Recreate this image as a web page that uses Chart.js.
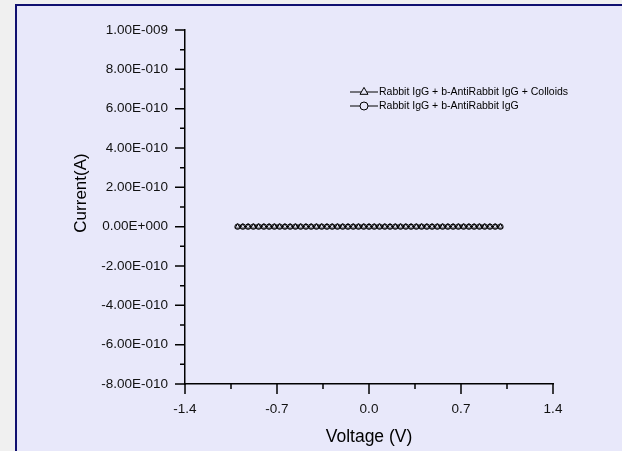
<!DOCTYPE html>
<html>
<head>
<meta charset="utf-8">
<script src="https://cdn.jsdelivr.net/npm/chart.js@4/dist/chart.umd.min.js"></script>
<style>
  html, body { margin: 0; padding: 0; background: #f0f0f0; }
  canvas { display: block; }
</style>
</head>
<body>
<canvas id="iv-chart" width="622" height="451"></canvas>
<script>
// voltage sweep (V)
const voltage = [
    -1.00, -0.96, -0.92, -0.88, -0.84, -0.80, -0.76, -0.72, -0.68, -0.64,
    -0.60, -0.56, -0.52, -0.48, -0.44, -0.40, -0.36, -0.32, -0.28, -0.24,
    -0.20, -0.16, -0.12, -0.08, -0.04, 0.00, 0.04, 0.08, 0.12, 0.16,
    0.20, 0.24, 0.28, 0.32, 0.36, 0.40, 0.44, 0.48, 0.52, 0.56,
    0.60, 0.64, 0.68, 0.72, 0.76, 0.80, 0.84, 0.88, 0.92, 0.96, 1.00
];
// current (A) - flat at this scale
const currentColloids = [
    0, 0, 0, 0, 0, 0, 0, 0, 0, 0,
    0, 0, 0, 0, 0, 0, 0, 0, 0, 0,
    0, 0, 0, 0, 0, 0, 0, 0, 0, 0,
    0, 0, 0, 0, 0, 0, 0, 0, 0, 0,
    0, 0, 0, 0, 0, 0, 0, 0, 0, 0, 0
];
const currentPlain = [
    0, 0, 0, 0, 0, 0, 0, 0, 0, 0,
    0, 0, 0, 0, 0, 0, 0, 0, 0, 0,
    0, 0, 0, 0, 0, 0, 0, 0, 0, 0,
    0, 0, 0, 0, 0, 0, 0, 0, 0, 0,
    0, 0, 0, 0, 0, 0, 0, 0, 0, 0, 0
];
const seriesLabels = ["Rabbit IgG + b-AntiRabbit IgG + Colloids", "Rabbit IgG + b-AntiRabbit IgG"];
const xTicks = [-1.4, -0.7, 0.0, 0.7, 1.4];
const yTicks = [-8e-10, -6e-10, -4e-10, -2e-10, 0, 2e-10, 4e-10, 6e-10, 8e-10, 1e-9];

const panelColor = "#e8e8fa";
const fontFamily = "'Liberation Sans', Arial, sans-serif";

function sciLabel(v) {
    if (Math.abs(v) < 1e-20) return "0.00E+000";
    let e = Math.floor(Math.log10(Math.abs(v)));
    let m = v / Math.pow(10, e);
    if (Math.abs(m) >= 9.995) { m = m / 10; e = e + 1; }
    return m.toFixed(2) + "E" + (e < 0 ? "-" : "+") + String(Math.abs(e)).padStart(3, "0");
}

function toPoints(ys) {
    return voltage.map((v, i) => ({ x: v, y: ys[i] }));
}

// background + framed panel
const framePlugin = {
    id: "frame",
    beforeDraw(chart) {
        const ctx = chart.ctx;
        ctx.save();
        ctx.fillStyle = "#f0f0f0";
        ctx.fillRect(0, 0, chart.width, chart.height);
        ctx.fillStyle = panelColor;
        ctx.fillRect(16, 5, chart.width - 16, chart.height - 5);
        ctx.strokeStyle = "#101070";
        ctx.lineWidth = 2;
        ctx.beginPath();
        ctx.moveTo(16, chart.height);
        ctx.lineTo(16, 5);
        ctx.lineTo(chart.width, 5);
        ctx.stroke();
        ctx.restore();
    }
};

// major + minor tick marks, pointing outward
const tickPlugin = {
    id: "tickMarks",
    afterDraw(chart) {
        const ctx = chart.ctx;
        const xs = chart.scales.x, ys = chart.scales.y;
        const area = chart.chartArea;
        ctx.save();
        ctx.strokeStyle = "#000";
        ctx.lineWidth = 1.5;
        ctx.beginPath();
        xTicks.forEach((t, i) => {
            const px = xs.getPixelForValue(t);
            ctx.moveTo(px, area.bottom); ctx.lineTo(px, area.bottom + 10);
            if (i < xTicks.length - 1) {
                const mx = xs.getPixelForValue((t + xTicks[i + 1]) / 2);
                ctx.moveTo(mx, area.bottom); ctx.lineTo(mx, area.bottom + 5);
            }
        });
        yTicks.forEach((t, i) => {
            const py = ys.getPixelForValue(t);
            ctx.moveTo(area.left, py); ctx.lineTo(area.left - 10, py);
            if (i < yTicks.length - 1) {
                const my = ys.getPixelForValue((t + yTicks[i + 1]) / 2);
                ctx.moveTo(area.left, my); ctx.lineTo(area.left - 5, my);
            }
        });
        ctx.stroke();

        // y axis title
        ctx.fillStyle = "#000";
        ctx.font = "17px " + fontFamily;
        ctx.textAlign = "center";
        ctx.textBaseline = "middle";
        ctx.translate(81, 193);
        ctx.rotate(-Math.PI / 2);
        ctx.fillText("Current(A)", 0, 0);
        ctx.restore();
    }
};

// legend inside the plot
const legendPlugin = {
    id: "insideLegend",
    afterDraw(chart) {
        const ctx = chart.ctx;
        const rows = [92, 106];
        ctx.save();
        chart.data.datasets.forEach((ds, i) => {
            const y = rows[i];
            ctx.strokeStyle = "#000";
            ctx.lineWidth = 1;
            ctx.beginPath();
            ctx.moveTo(350, y); ctx.lineTo(378, y);
            ctx.stroke();
            ctx.fillStyle = panelColor;
            Chart.helpers.drawPoint(ctx, {
                pointStyle: ds.pointStyle,
                radius: ds.pointStyle === "triangle" ? 4.6 : 4,
                borderWidth: 1,
                rotation: 0
            }, 364, y);
            ctx.fillStyle = "#000";
            ctx.font = "10.5px " + fontFamily;
            ctx.textAlign = "left";
            ctx.textBaseline = "middle";
            ctx.fillText(ds.label, 379, y);
        });
        ctx.restore();
    }
};

new Chart(document.getElementById("iv-chart"), {
    type: "line",
    data: {
        datasets: [{
            label: seriesLabels[0],
            data: toPoints(currentColloids),
            pointStyle: "triangle",
            pointRadius: 3,
            borderColor: "#000",
            backgroundColor: panelColor,
            borderWidth: 1,
            pointBorderWidth: 1
        }, {
            label: seriesLabels[1],
            data: toPoints(currentPlain),
            pointStyle: "circle",
            pointRadius: 2.7,
            borderColor: "#000",
            backgroundColor: panelColor,
            borderWidth: 1,
            pointBorderWidth: 1
        }]
    },
    options: {
        responsive: false,
        animation: false,
        layout: { padding: { top: 30, right: 69, left: 0, bottom: 0 } },
        plugins: {
            legend: { display: false },
            tooltip: { enabled: false }
        },
        scales: {
            x: {
                type: "linear",
                min: -1.4,
                max: 1.4,
                afterBuildTicks: (scale) => { scale.ticks = xTicks.map(v => ({ value: v })); },
                afterFit: (scale) => { scale.height = 67; },
                grid: { display: false },
                border: { display: true, color: "#000", width: 1.5 },
                ticks: {
                    padding: 9,
                    color: "#111",
                    font: { size: 13.5, family: fontFamily },
                    callback: (v) => Number(v).toFixed(1)
                },
                title: {
                    display: true,
                    text: "Voltage (V)",
                    color: "#000",
                    font: { size: 17.5, family: fontFamily },
                    padding: { top: 0, bottom: 3 }
                }
            },
            y: {
                type: "linear",
                min: -8e-10,
                max: 1e-9,
                afterBuildTicks: (scale) => { scale.ticks = yTicks.map(v => ({ value: v })); },
                afterFit: (scale) => { scale.width = 185; },
                grid: { display: false },
                border: { display: true, color: "#000", width: 1.5 },
                ticks: {
                    padding: 9,
                    color: "#111",
                    font: { size: 13.5, family: fontFamily },
                    callback: (v) => sciLabel(v)
                }
            }
        }
    },
    plugins: [framePlugin, tickPlugin, legendPlugin]
});
</script>
</body>
</html>
